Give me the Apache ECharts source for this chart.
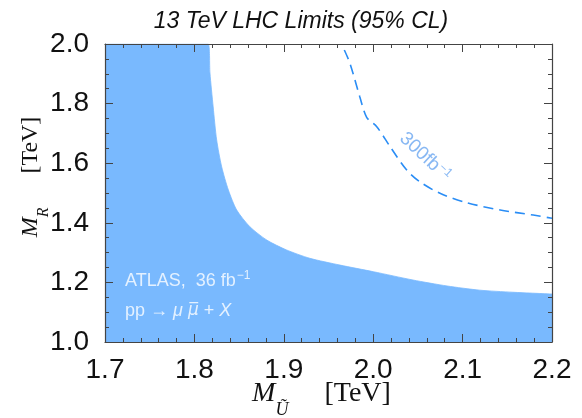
<!DOCTYPE html>
<html><head><meta charset="utf-8">
<script src="https://cdn.jsdelivr.net/npm/echarts@6.0.0/dist/echarts.min.js"></script>
<style>html,body{margin:0;padding:0;background:#fff}#c{width:582px;height:418px}</style>
</head><body><div id="c"></div>
<script>
// ATLAS 36 fb^-1 excluded region boundary (M_U [TeV], M_R [TeV])
const limitX = [1.7, 1.8155, 1.8174, 1.821, 1.8249, 1.8305, 1.838, 1.8473, 1.862, 1.881, 1.903, 1.929, 1.963, 2.0, 2.0445, 2.0826, 2.119, 2.156, 2.2];
const limitY = [2.0, 2.0, 1.903, 1.789, 1.678, 1.588, 1.510, 1.443, 1.387, 1.342, 1.309, 1.281, 1.258, 1.236, 1.208, 1.188, 1.174, 1.167, 1.161];
// 300 fb^-1 projection
const projX = [1.9677, 1.974, 1.985, 1.9927, 2.004, 2.019, 2.0375, 2.052, 2.0747, 2.1046, 2.142, 2.179, 2.2];
const projY = [1.980, 1.935, 1.823, 1.754, 1.7225, 1.655, 1.577, 1.538, 1.499, 1.4675, 1.443, 1.426, 1.415];
const xTicks = [1.7, 1.8, 1.9, 2.0, 2.1, 2.2];
const yTicks = [1.0, 1.2, 1.4, 1.6, 1.8, 2.0];
const titleText = '13 TeV LHC Limits (95% CL)';
const projLabelPos = [2.058, 1.621];
const atlasLabelPos = [1.7224, 1.205];
const procLabelPos = [1.7224, 1.105];

const zip = (a, b) => a.map((v, i) => [v, b[i]]);
const frame = '#444';
const fill = '#79b9fe';
const sans = '"Liberation Sans", Arial, sans-serif';
const serif = '"Liberation Serif", "DejaVu Serif", serif';

const chart = echarts.init(document.getElementById('c'), null, {renderer: 'canvas'});
const baseX = {
  type: 'value', min: xTicks[0], max: xTicks[xTicks.length - 1], interval: 0.1, z: 10,
  axisLine: {show: true, onZero: false, lineStyle: {color: frame, width: 1.2}},
  axisTick: {show: true, inside: true, length: 8, lineStyle: {color: frame}},
  minorTick: {show: true, splitNumber: 5, length: 4, lineStyle: {color: frame}},
  splitLine: {show: false}
};
const baseY = {
  type: 'value', min: yTicks[0], max: yTicks[yTicks.length - 1], interval: 0.2, z: 10,
  axisLine: {show: true, onZero: false, lineStyle: {color: frame, width: 1.2}},
  axisTick: {show: true, inside: true, length: 8, lineStyle: {color: frame}},
  minorTick: {show: true, splitNumber: 4, length: 4, lineStyle: {color: frame}},
  splitLine: {show: false}
};
chart.setOption({
  animation: false,
  backgroundColor: '#fff',
  title: {
    text: titleText, left: 296, top: 5, textAlign: 'center',
    textStyle: {fontFamily: sans, fontStyle: 'italic', fontWeight: 'normal', fontSize: 23, color: '#111'}
  },
  grid: {left: 105, right: 30, top: 44, bottom: 76, containLabel: false, outerBoundsMode: 'none'},
  xAxis: [
    Object.assign({}, baseX, {
      position: 'bottom',
      axisLabel: {show: true, margin: 14, fontSize: 28, color: '#111', fontFamily: sans, formatter: v => v.toFixed(1)},
      name: '{m|M}{s|Ũ}{t|[TeV]}', nameLocation: 'middle', nameGap: 37, nameMoveOverlap: false,
      nameTextStyle: {
        padding: [0, 14, 0, 0],
        rich: {
          m: {fontFamily: serif, fontStyle: 'italic', fontSize: 28, color: '#111', lineHeight: 30},
          s: {fontFamily: serif, fontStyle: 'italic', fontSize: 18, color: '#111', verticalAlign: 'bottom', lineHeight: 30, padding: [0, 0, -10, 0]},
          t: {fontFamily: serif, fontSize: 28, color: '#111', lineHeight: 30, padding: [0, 0, 0, 36]}
        }
      }
    }),
    Object.assign({}, baseX, {position: 'top', axisLabel: {show: false}})
  ],
  yAxis: [
    Object.assign({}, baseY, {
      position: 'left',
      axisLabel: {show: true, margin: 16, fontSize: 28, color: '#111', fontFamily: sans, formatter: v => v.toFixed(1)},
      name: '{m|M}{s|R}{t|[TeV]}', nameLocation: 'middle', nameGap: 60, nameMoveOverlap: false,
      nameTextStyle: {
        padding: [0, 0, 0, 32],
        rich: {
          m: {fontFamily: serif, fontStyle: 'italic', fontSize: 24, color: '#111', lineHeight: 28},
          s: {fontFamily: serif, fontStyle: 'italic', fontSize: 16, color: '#111', verticalAlign: 'bottom', lineHeight: 28, padding: [0, 0, -7, 0]},
          t: {fontFamily: serif, fontSize: 24, color: '#111', lineHeight: 28, padding: [0, 0, 0, 34]}
        }
      }
    }),
    Object.assign({}, baseY, {position: 'right', axisLabel: {show: false}})
  ],
  series: [
    {
      type: 'line', data: zip(limitX, limitY), symbol: 'none', smooth: 0.25,
      lineStyle: {width: 0.8, color: fill}, areaStyle: {color: fill, opacity: 1, origin: 'start'}, z: 1
    },
    {
      type: 'line', data: zip(projX, projY), symbol: 'none', smooth: 0.3,
      lineStyle: {color: '#2a8df5', width: 1.6, type: [10, 6]}, z: 2
    },
    {
      type: 'scatter', data: [projLabelPos], symbolSize: 0, z: 3, silent: true,
      label: {show: true, position: 'inside', rotate: -43, formatter: '{a|300fb}{b|−1}',
        rich: {
          a: {fontFamily: sans, fontSize: 19, color: '#6aa6f0'},
          b: {fontFamily: sans, fontSize: 12, color: '#6aa6f0', padding: [0, 0, 8, 1]}
        }}
    },
    {
      type: 'scatter', data: [atlasLabelPos], symbolSize: 0, z: 3, silent: true,
      label: {show: true, position: 'right', distance: 0, formatter: '{a|ATLAS,  36 fb}{b|−1}',
        rich: {
          a: {fontFamily: sans, fontSize: 18, color: '#fff'},
          b: {fontFamily: sans, fontSize: 12, color: '#fff', padding: [0, 0, 10, 1]}
        }}
    },
    {
      type: 'scatter', data: [procLabelPos], symbolSize: 0, z: 3, silent: true,
      label: {show: true, position: 'right', distance: 0, formatter: '{a|pp → }{i|μ }{j|μ\u0305}{a| + }{i|X}',
        rich: {
          a: {fontFamily: sans, fontSize: 18, color: '#fff'},
          i: {fontFamily: sans, fontStyle: 'italic', fontSize: 18, color: '#fff'},
          j: {fontFamily: '"DejaVu Sans", sans-serif', fontStyle: 'italic', fontSize: 17, color: '#fff'}
        }}
    }
  ]
});
</script></body></html>
